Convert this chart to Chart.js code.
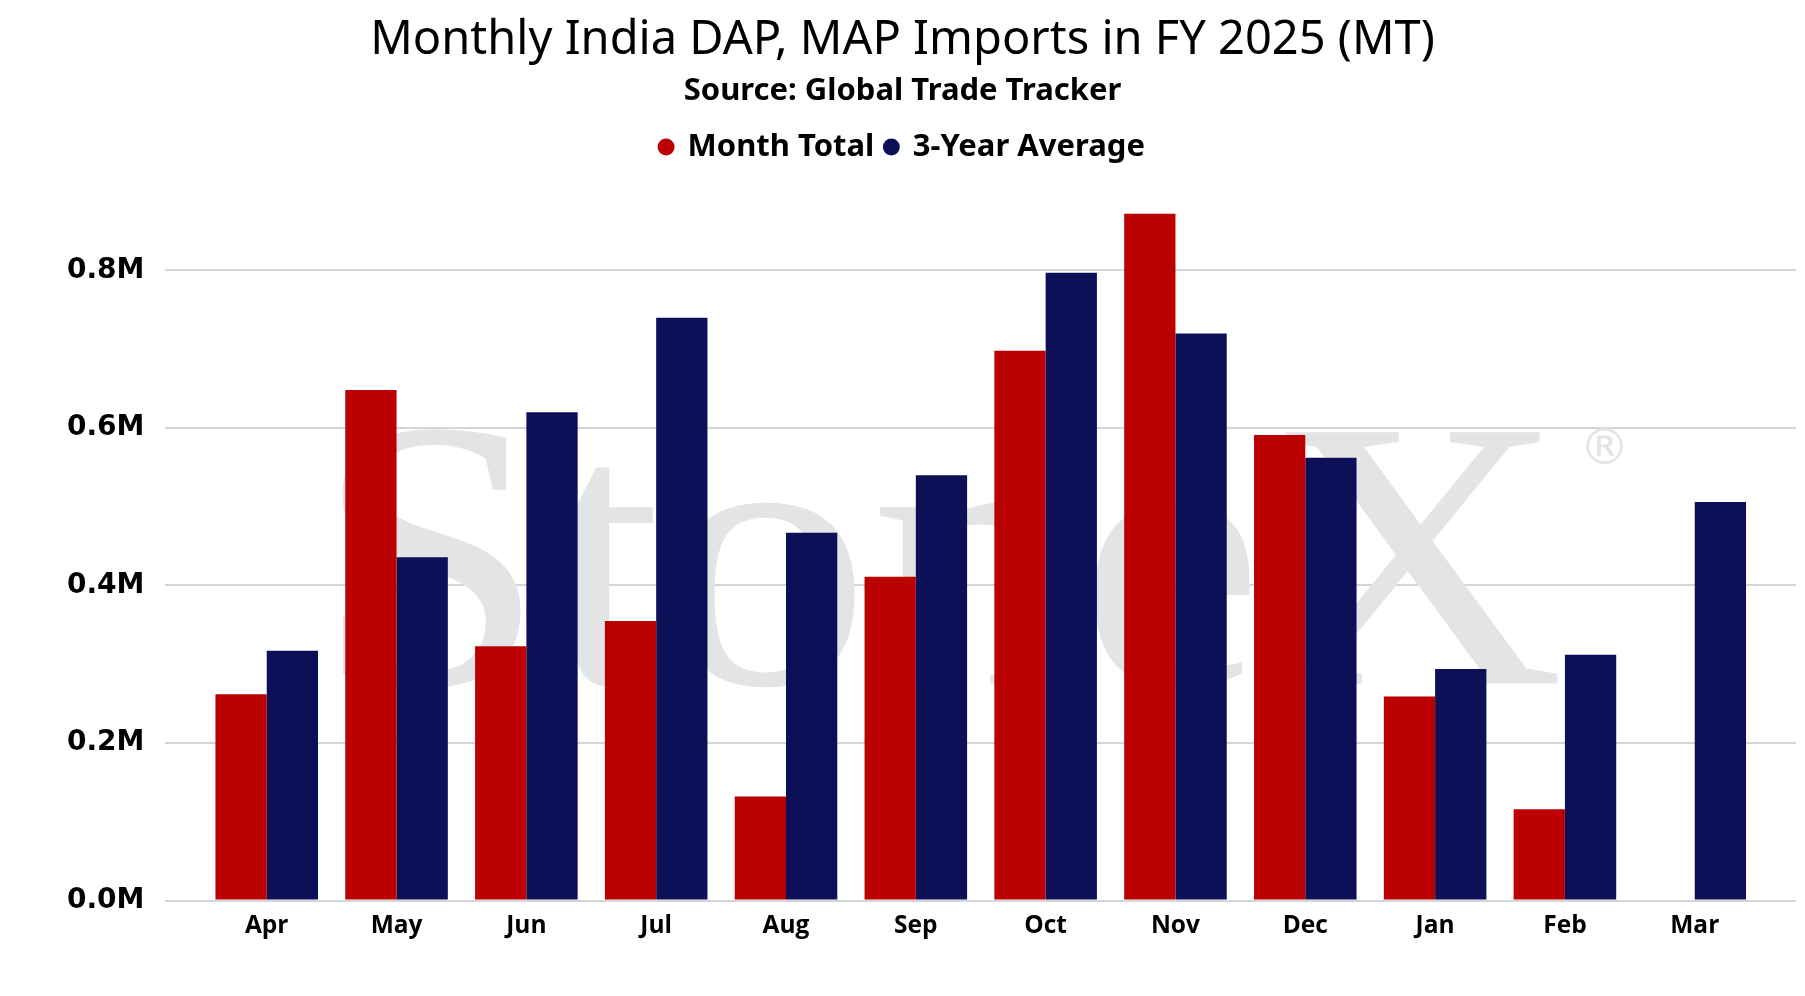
<!DOCTYPE html>
<html>
<head>
<meta charset="utf-8">
<script src="https://cdn.jsdelivr.net/npm/chart.js@4"></script>
<style>
  html, body { margin: 0; padding: 0; background: #fff; }
  #wrap { width: 1805px; height: 996px; position: relative; }
</style>
</head>
<body>
<div id="wrap"><canvas id="importsChart" width="1805" height="996"></canvas></div>
<script>
// Month labels (Indian fiscal year Apr-Mar)
const months = ['Apr', 'May', 'Jun', 'Jul', 'Aug', 'Sep', 'Oct', 'Nov', 'Dec', 'Jan', 'Feb', 'Mar'];

// Values in million MT
const monthTotal = [0.262, 0.648, 0.323, 0.355, 0.132, 0.411, 0.698, 0.872, 0.591, 0.259, 0.116, null];
const threeYearAvg = [0.317, 0.436, 0.620, 0.740, 0.467, 0.540, 0.797, 0.720, 0.562, 0.294, 0.312, 0.506];

// y-axis tick values
const yTicks = [0, 0.2, 0.4, 0.6, 0.8];

const RED = '#BA0000';
const NAVY = '#0C1157';

// Faint watermark behind the bars
const watermark = {
  id: 'watermark',
  beforeDatasetsDraw(chart) {
    const { ctx, chartArea } = chart;
    ctx.save();
    ctx.fillStyle = '#e3e4e6';
    ctx.font = '384px "Liberation Serif", serif';
    ctx.textBaseline = 'alphabetic';
    const m = ctx.measureText('StoneX');
    const inkW = m.actualBoundingBoxLeft + m.actualBoundingBoxRight;
    ctx.translate(chartArea.left + 175, chartArea.top + 492);
    ctx.scale(1223 / inkW, 1);
    ctx.fillText('StoneX', m.actualBoundingBoxLeft, 0);
    ctx.restore();

    ctx.save();
    ctx.fillStyle = '#e3e4e6';
    ctx.font = '50px "DejaVu Sans", sans-serif';
    ctx.textAlign = 'center';
    ctx.textBaseline = 'middle';
    ctx.fillText('\u00AE', chartArea.left + 1439, chartArea.top + 259);
    ctx.restore();
  }
};

// Extra room between the legend and the plot
const legendGap = {
  id: 'legendGap',
  beforeInit(chart) {
    const fit = chart.legend.fit;
    chart.legend.fit = function () {
      fit.call(this);
      this.height += 19;
    };
  }
};

const ctx = document.getElementById('importsChart').getContext('2d');
const importsChart = new Chart(ctx, {
  type: 'bar',
  data: {
    datasets: [
      {
        label: 'Month Total',
        data: monthTotal.map((v, i) => ({ x: i, y: v })),
        backgroundColor: RED,
        borderWidth: 0,
        categoryPercentage: 0.79,
        barPercentage: 1.0,
      },
      {
        label: '3-Year Average',
        data: threeYearAvg.map((v, i) => ({ x: i, y: v })),
        backgroundColor: NAVY,
        borderWidth: 0,
        categoryPercentage: 0.79,
        barPercentage: 1.0,
      },
    ],
  },
  options: {
    responsive: false,
    animation: false,
    layout: { padding: { left: 9, right: 9, top: 4, bottom: 52 } },
    scales: {
      x: {
        type: 'linear',
        offset: false,
        min: -0.78,
        max: 11.78,
        grid: { display: false },
        border: { display: false },
        afterBuildTicks(scale) {
          scale.ticks = months.map((m, i) => ({ value: i }));
        },
        ticks: {
          autoSkip: false,
          maxRotation: 0,
          padding: 3,
          color: '#000',
          font: { family: 'Open Sans', weight: 'bold', size: 24.5 },
          callback: (v) => months[v],
        },
      },
      y: {
        min: 0,
        max: 0.9,
        afterBuildTicks(scale) {
          scale.ticks = yTicks.map(v => ({ value: v }));
        },
        afterFit(scale) {
          scale.width += 37;
        },
        grid: { color: '#d3d5da', lineWidth: 2, drawTicks: false },
        border: { display: false },
        ticks: {
          padding: 21,
          color: '#000',
          font: { family: 'DejaVu Sans', weight: 'bold', size: 28 },
          callback: (v) => v.toFixed(1) + 'M',
        },
      },
    },
    plugins: {
      title: {
        display: true,
        text: 'Monthly India DAP, MAP Imports in FY 2025 (MT)',
        color: '#000',
        font: { family: 'Noto Sans', weight: 'normal', size: 47 },
        padding: { top: 8, bottom: 4 },
      },
      subtitle: {
        display: true,
        text: 'Source: Global Trade Tracker',
        color: '#000',
        font: { family: 'Noto Sans', weight: 'bold', size: 31 },
        padding: { top: 0, bottom: 11 },
      },
      legend: {
        display: true,
        labels: {
          usePointStyle: true,
          pointStyle: 'circle',
          boxWidth: 12,
          boxHeight: 12,
          padding: 11,
          color: '#000',
          font: { family: 'Noto Sans', weight: 'bold', size: 31 },
        },
      },
      tooltip: { enabled: false },
    },
  },
  plugins: [watermark, legendGap],
});
</script>
</body>
</html>
